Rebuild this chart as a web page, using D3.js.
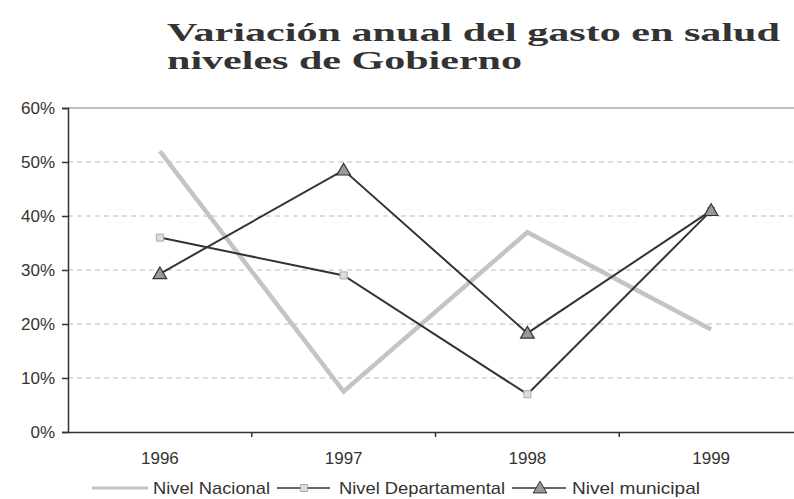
<!DOCTYPE html>
<html><head><meta charset="utf-8">
<script src="https://cdn.jsdelivr.net/npm/d3@7"></script>
<style>html,body{margin:0;padding:0;background:#fff;}svg{display:block;}</style>
</head><body>
<svg id="c" width="794" height="499"></svg>
<script>
const years = ["1996","1997","1998","1999"];
const nacional = [0.52, 0.075, 0.37, 0.19];
const departamental = [0.36, 0.29, 0.07, 0.41];
const municipal = [0.293, 0.485, 0.183, 0.41];
const yTicks = [0,0.1,0.2,0.3,0.4,0.5,0.6];
const titleLines = ["Variación anual del gasto en salud","niveles de Gobierno"];
const legendLabels = ["Nivel Nacional","Nivel Departamental","Nivel municipal"];

const svg = d3.select("#c");
const x = d3.scaleBand().domain(years).range([68, 803]);
const y = d3.scaleLinear().domain([0,0.6]).range([432,108]);
const sans = "'Liberation Sans', Arial, sans-serif";

// title
svg.append("text").attr("x",167).attr("y",41).text(titleLines[0])
  .attr("font-family","'Liberation Serif','Times New Roman',serif").attr("font-weight","bold")
  .attr("font-size",26).attr("fill","#333").attr("textLength",613).attr("lengthAdjust","spacingAndGlyphs");
svg.append("text").attr("x",167).attr("y",69).text(titleLines[1])
  .attr("font-family","'Liberation Serif','Times New Roman',serif").attr("font-weight","bold")
  .attr("font-size",26).attr("fill","#333").attr("textLength",355).attr("lengthAdjust","spacingAndGlyphs");

// gridlines
svg.append("g").selectAll("line").data(yTicks.filter(d=>d>0)).join("line")
  .attr("x1",68).attr("x2",794).attr("y1",d=>y(d)).attr("y2",d=>y(d))
  .attr("stroke", d=> d===0.6 ? "#aaa" : "#bbb")
  .attr("stroke-width", d=> d===0.6 ? 1.5 : 1)
  .attr("stroke-dasharray", d=> d===0.6 ? null : "5,4");

// y axis
const yAxis = svg.append("g").attr("transform","translate(68,0)")
  .call(d3.axisLeft(y).tickValues(yTicks).tickFormat(d3.format(".0%")).tickSize(6).tickPadding(7));
yAxis.select(".domain").attr("stroke","#333").attr("stroke-width",1.5);
yAxis.selectAll(".tick line").attr("stroke","#333").attr("stroke-width",1.5);
yAxis.selectAll("text").attr("font-family",sans).attr("font-size",17).attr("fill","#333");

// x axis
const xAxis = svg.append("g").attr("transform","translate(0,432)")
  .call(d3.axisBottom(x).tickSize(0).tickPadding(20));
xAxis.select(".domain").attr("stroke","#333").attr("stroke-width",1.5);
xAxis.selectAll("text").attr("font-family",sans).attr("font-size",17).attr("fill","#333");
svg.append("g").selectAll("line").data(years.slice(1)).join("line")
  .attr("x1",d=>x(d)).attr("x2",d=>x(d)).attr("y1",432).attr("y2",437)
  .attr("stroke","#333").attr("stroke-width",1.5);

const cx = d => x(d) + x.bandwidth()/2;
const line = d3.line().x((d,i)=>cx(years[i])).y(d=>y(d));

svg.append("path").datum(nacional).attr("d",line).attr("fill","none")
  .attr("stroke","#c4c4c4").attr("stroke-width",4.5).attr("stroke-linejoin","miter");
svg.append("path").datum(departamental).attr("d",line).attr("fill","none")
  .attr("stroke","#333").attr("stroke-width",2);
svg.append("path").datum(municipal).attr("d",line).attr("fill","none")
  .attr("stroke","#333").attr("stroke-width",2);

const sq = d3.symbol().type(d3.symbolSquare).size(50);
const tri = d3.symbol().type(d3.symbolTriangle).size(80);
svg.append("g").selectAll("path").data(departamental).join("path")
  .attr("d",sq).attr("transform",(d,i)=>`translate(${cx(years[i])},${y(d)})`)
  .attr("fill","#ddd").attr("stroke","#aaa").attr("stroke-width",1);
svg.append("g").selectAll("path").data(municipal).join("path")
  .attr("d",tri).attr("transform",(d,i)=>`translate(${cx(years[i])},${y(d)+1})`)
  .attr("fill","#999").attr("stroke","#333").attr("stroke-width",1.2);

// legend
const ly = 488;
const lg = svg.append("g");
lg.append("line").attr("x1",92).attr("x2",148).attr("y1",ly).attr("y2",ly).attr("stroke","#c4c4c4").attr("stroke-width",3);
lg.append("text").attr("x",153).attr("y",ly+6).text(legendLabels[0]).attr("font-family",sans).attr("font-size",17).attr("fill","#333").attr("textLength",117).attr("lengthAdjust","spacingAndGlyphs");
lg.append("line").attr("x1",277).attr("x2",330).attr("y1",ly).attr("y2",ly).attr("stroke","#333").attr("stroke-width",1.5);
lg.append("path").attr("d",sq).attr("transform",`translate(304,${ly})`).attr("fill","#ddd").attr("stroke","#aaa");
lg.append("text").attr("x",339).attr("y",ly+6).text(legendLabels[1]).attr("font-family",sans).attr("font-size",17).attr("fill","#333").attr("textLength",166).attr("lengthAdjust","spacingAndGlyphs");
lg.append("line").attr("x1",512).attr("x2",566).attr("y1",ly).attr("y2",ly).attr("stroke","#333").attr("stroke-width",1.5);
lg.append("path").attr("d",tri).attr("transform",`translate(540,${ly+1})`).attr("fill","#999").attr("stroke","#333");
lg.append("text").attr("x",572).attr("y",ly+6).text(legendLabels[2]).attr("font-family",sans).attr("font-size",17).attr("fill","#333").attr("textLength",128).attr("lengthAdjust","spacingAndGlyphs");
</script>
</body></html>
